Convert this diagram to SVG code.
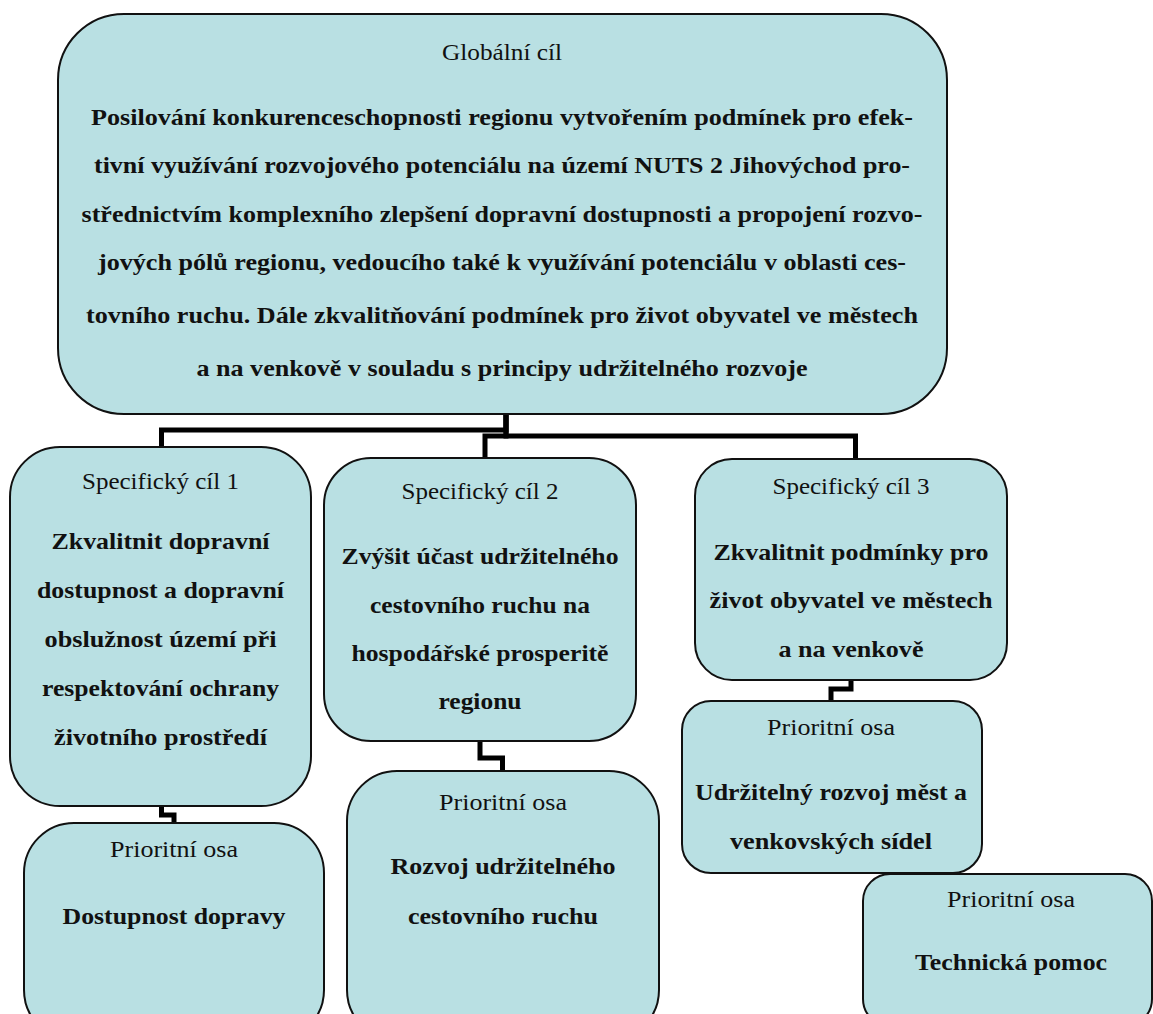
<svg xmlns="http://www.w3.org/2000/svg" width="1153" height="1014" viewBox="0 0 1153 1014">
<style>
.box{fill:#b9e0e3;stroke:#111;stroke-width:2}
.t{font-family:"Liberation Serif",serif;font-size:23px;fill:#111;text-anchor:middle}
.b{font-weight:bold}
.c{fill:none;stroke:#000;stroke-width:5;stroke-linejoin:miter}
</style>
<rect width="1153" height="1014" fill="#fff"/>
<g id="connectors">
<path class="c" d="M506,414 V430 H161.5 V447"/>
<path class="c" d="M506,414 V436 H485 V458"/>
<path class="c" d="M506,414 V436 H855.5 V459"/>
<path class="c" d="M161.5,806 V815 H174 V823"/>
<path class="c" d="M480,741 V758 H502.5 V771"/>
<path class="c" d="M851,680 V689 H831 V701"/>
</g>
<g id="global">
<rect class="box" x="58" y="14" width="889" height="400" rx="66"/>
<text class="t" x="502" y="60" textLength="120" lengthAdjust="spacingAndGlyphs">Globální cíl</text>
<text class="t b" x="502" y="125" textLength="822" lengthAdjust="spacingAndGlyphs">Posilování konkurenceschopnosti regionu vytvořením podmínek pro efek-</text>
<text class="t b" x="502" y="173" textLength="816" lengthAdjust="spacingAndGlyphs">tivní využívání rozvojového potenciálu na území NUTS 2 Jihovýchod pro-</text>
<text class="t b" x="502" y="222" textLength="841" lengthAdjust="spacingAndGlyphs">střednictvím komplexního zlepšení dopravní dostupnosti a propojení rozvo-</text>
<text class="t b" x="502" y="270" textLength="808" lengthAdjust="spacingAndGlyphs">jových pólů regionu, vedoucího také k využívání potenciálu v oblasti ces-</text>
<text class="t b" x="502" y="323" textLength="832" lengthAdjust="spacingAndGlyphs">tovního ruchu. Dále zkvalitňování podmínek pro život obyvatel ve městech</text>
<text class="t b" x="502" y="376" textLength="611" lengthAdjust="spacingAndGlyphs">a na venkově v souladu s principy udržitelného rozvoje</text>
</g>
<g id="sc1">
<rect class="box" x="10" y="447" width="301" height="359" rx="50"/>
<text class="t" x="160.5" y="489" textLength="157" lengthAdjust="spacingAndGlyphs">Specifický cíl 1</text>
<text class="t b" x="160.5" y="549" textLength="218" lengthAdjust="spacingAndGlyphs">Zkvalitnit dopravní</text>
<text class="t b" x="160.5" y="598" textLength="247" lengthAdjust="spacingAndGlyphs">dostupnost a dopravní</text>
<text class="t b" x="160.5" y="647" textLength="232" lengthAdjust="spacingAndGlyphs">obslužnost území při</text>
<text class="t b" x="160.5" y="696" textLength="237" lengthAdjust="spacingAndGlyphs">respektování ochrany</text>
<text class="t b" x="160.5" y="745" textLength="213" lengthAdjust="spacingAndGlyphs">životního prostředí</text>
</g>
<g id="sc2">
<rect class="box" x="324" y="458" width="312" height="283" rx="47"/>
<text class="t" x="480" y="499" textLength="157" lengthAdjust="spacingAndGlyphs">Specifický cíl 2</text>
<text class="t b" x="480" y="564" textLength="277" lengthAdjust="spacingAndGlyphs">Zvýšit účast udržitelného</text>
<text class="t b" x="480" y="613" textLength="220" lengthAdjust="spacingAndGlyphs">cestovního ruchu na</text>
<text class="t b" x="480" y="661" textLength="257" lengthAdjust="spacingAndGlyphs">hospodářské prosperitě</text>
<text class="t b" x="480" y="709" textLength="83" lengthAdjust="spacingAndGlyphs">regionu</text>
</g>
<g id="sc3">
<rect class="box" x="695" y="459" width="312" height="221" rx="37"/>
<text class="t" x="851" y="494" textLength="157" lengthAdjust="spacingAndGlyphs">Specifický cíl 3</text>
<text class="t b" x="851" y="560" textLength="275" lengthAdjust="spacingAndGlyphs">Zkvalitnit podmínky pro</text>
<text class="t b" x="851" y="608" textLength="283" lengthAdjust="spacingAndGlyphs">život obyvatel ve městech</text>
<text class="t b" x="851" y="657" textLength="145" lengthAdjust="spacingAndGlyphs">a na venkově</text>
</g>
<g id="po1">
<rect class="box" x="24" y="823" width="300" height="217" rx="50"/>
<text class="t" x="174" y="857" textLength="128" lengthAdjust="spacingAndGlyphs">Prioritní osa</text>
<text class="t b" x="174" y="924" textLength="223" lengthAdjust="spacingAndGlyphs">Dostupnost dopravy</text>
</g>
<g id="po2">
<rect class="box" x="347" y="771" width="312" height="269" rx="50"/>
<text class="t" x="503" y="810" textLength="128" lengthAdjust="spacingAndGlyphs">Prioritní osa</text>
<text class="t b" x="503" y="874" textLength="225" lengthAdjust="spacingAndGlyphs">Rozvoj udržitelného</text>
<text class="t b" x="503" y="924" textLength="190" lengthAdjust="spacingAndGlyphs">cestovního ruchu</text>
</g>
<g id="po3">
<rect class="box" x="682" y="701" width="300" height="172" rx="29"/>
<text class="t" x="831" y="735" textLength="128" lengthAdjust="spacingAndGlyphs">Prioritní osa</text>
<text class="t b" x="831" y="800" textLength="272" lengthAdjust="spacingAndGlyphs">Udržitelný rozvoj měst a</text>
<text class="t b" x="831" y="849" textLength="202" lengthAdjust="spacingAndGlyphs">venkovských sídel</text>
</g>
<g id="po4">
<rect class="box" x="863" y="874" width="289" height="152" rx="27"/>
<text class="t" x="1011" y="907" textLength="128" lengthAdjust="spacingAndGlyphs">Prioritní osa</text>
<text class="t b" x="1011" y="970" textLength="192" lengthAdjust="spacingAndGlyphs">Technická pomoc</text>
</g>
</svg>
